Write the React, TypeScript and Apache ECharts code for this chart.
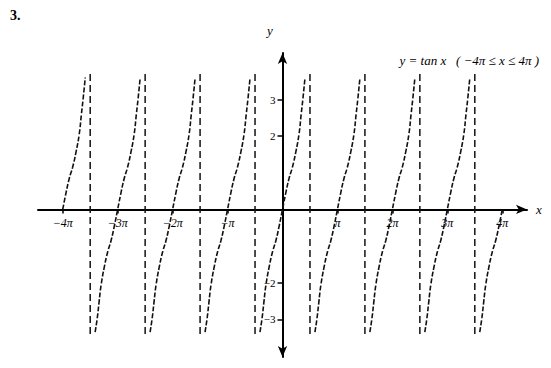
import React, { useEffect, useRef } from "react";
import * as echarts from "echarts";

// x values are in units of π
const branchCenters = [-4, -3, -2, -1, 0, 1, 2, 3, 4];
const branchOffsets = [-0.41, -0.37, -0.34, -0.3, -0.24, -0.18, -0.12, -0.06, 0, 0.06, 0.12, 0.18, 0.24, 0.3, 0.34, 0.37, 0.41];
const branchValues = [-3.35, -2.95, -2.55, -2.05, -1.55, -1.15, -0.85, -0.45, 0, 0.45, 0.85, 1.15, 1.55, 2.05, 2.6, 3.0, 3.6];
const domain = [-4, 4];
const asymptoteX = [-3.5, -2.5, -1.5, -0.5, 0.5, 1.5, 2.5, 3.5];
const asymptoteY = [3.7, -3.5];
const xTickValues = [-4, -3, -2, -1, 1, 2, 3, 4];
const xTickLabels = ["−4π", "−3π", "−2π", "−π", "π", "2π", "3π", "4π"];
const yTickValues = [-3, -2, 2, 3];
const yTickLabels = ["−3", "−2", "2", "3"];

const W = 551;
const H = 368;
const GRID = { left: 38, right: 24, top: 53, bottom: 11 };
const X_RANGE = [-4.45, 4.45];
const Y_RANGE = [-4.03, 4.27];

export default function App() {
  const ref = useRef<HTMLDivElement>(null);
  useEffect(() => {
    if (!ref.current) return;
    const chart = echarts.init(ref.current, null, { renderer: "svg" });
    const font = "'Liberation Serif', 'DejaVu Serif', serif";
    const gw = W - GRID.left - GRID.right;
    const gh = H - GRID.top - GRID.bottom;
    // place axis lines at the origin by shifting them from the grid edges
    const xZeroPx = ((0 - X_RANGE[0]) / (X_RANGE[1] - X_RANGE[0])) * gw;
    const yZeroPx = ((0 - Y_RANGE[0]) / (Y_RANGE[1] - Y_RANGE[0])) * gh;
    const curveSeries = branchCenters.map((c) => ({
      type: "line",
      data: branchOffsets
        .map((o, i) => [c + o, branchValues[i]])
        .filter((p) => p[0] >= domain[0] && p[0] <= domain[1]),
      showSymbol: false,
      smooth: true,
      lineStyle: { color: "#111", width: 1.6, type: [5, 2] },
      silent: true,
    }));
    const asymSeries = asymptoteX.map((x) => ({
      type: "line",
      data: asymptoteY.map((y) => [x, y]),
      showSymbol: false,
      lineStyle: { color: "#111", width: 1.5, type: [7, 4] },
      silent: true,
    }));
    chart.setOption({
      animation: false,
      backgroundColor: "#fff",
      grid: { ...GRID, outerBoundsMode: "none", containLabel: false },
      xAxis: {
        type: "value",
        min: X_RANGE[0],
        max: X_RANGE[1],
        position: "bottom",
        offset: -yZeroPx,
        axisLine: {
          onZero: false,
          symbol: ["none", "arrow"],
          symbolSize: [7, 11],
          lineStyle: { color: "#000", width: 2 },
        },
        axisTick: { show: true, customValues: xTickValues, length: 4, lineStyle: { color: "#000", width: 1.5 } },
        axisLabel: {
          customValues: xTickValues,
          formatter: (v: number) => xTickLabels[xTickValues.indexOf(Math.round(v))] ?? "",
          color: "#000",
          fontFamily: font,
          fontStyle: "italic",
          fontSize: 12,
          margin: 8,
        },
        splitLine: { show: false },
      },
      yAxis: {
        type: "value",
        min: Y_RANGE[0],
        max: Y_RANGE[1],
        position: "left",
        offset: -xZeroPx,
        axisLine: {
          onZero: false,
          symbol: ["arrow", "arrow"],
          symbolSize: [7, 11],
          lineStyle: { color: "#000", width: 2 },
        },
        axisTick: { show: true, customValues: yTickValues, length: 5, lineStyle: { color: "#000", width: 1.5 } },
        axisLabel: {
          customValues: yTickValues,
          formatter: (v: number) => yTickLabels[yTickValues.indexOf(Math.round(v))] ?? "",
          color: "#000",
          fontFamily: font,
          fontSize: 11,
          margin: 7,
        },
        splitLine: { show: false },
      },
      graphic: [
        { type: "text", left: 10, top: 8, style: { text: "3.", font: `bold 14px ${font}`, fill: "#000" } },
        { type: "text", left: 267, top: 24, style: { text: "y", font: `italic 13px ${font}`, fill: "#000" } },
        { type: "text", left: 536, top: 203, style: { text: "x", font: `italic 13px ${font}`, fill: "#000" } },
        {
          type: "text",
          right: 12,
          top: 54,
          style: { text: "y = tan x   ( −4π ≤ x ≤ 4π )", font: `italic 13px ${font}`, fill: "#000" },
        },
      ],
      series: [...asymSeries, ...curveSeries],
    });
    return () => chart.dispose();
  }, []);
  return <div ref={ref} style={{ position: "fixed", left: 0, top: 0, width: W, height: H }} />;
}
